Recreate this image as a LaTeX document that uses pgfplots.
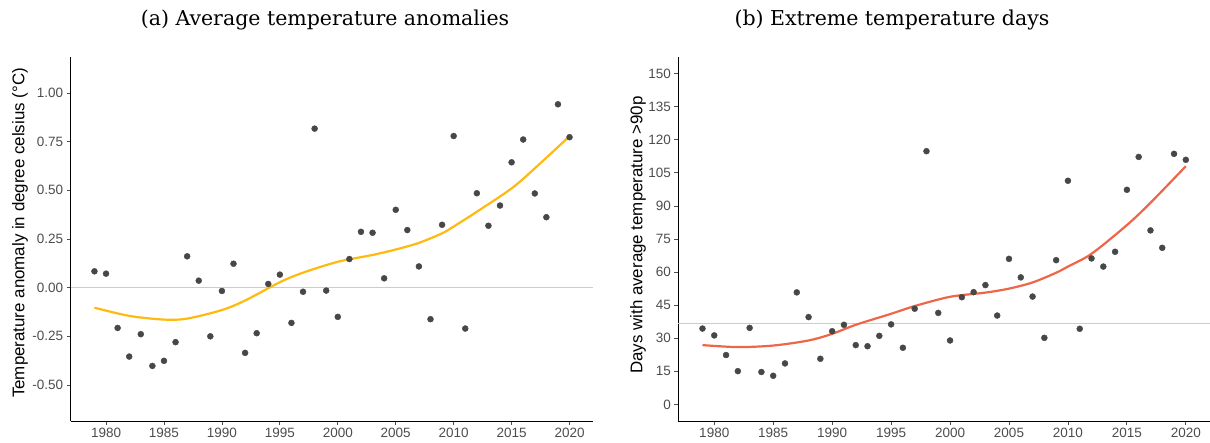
\documentclass[border=0pt]{standalone}
\usepackage{fontspec}
\setmainfont{DejaVu Serif}
\newfontfamily\lsans{Liberation Sans}
\usepackage{pgfplots}
\pgfplotsset{compat=1.18}
\definecolor{ptgrey}{HTML}{474747}
\definecolor{tickgrey}{HTML}{4D4D4D}
\definecolor{refgrey}{HTML}{CCCCCC}
\definecolor{curveA}{HTML}{FFB910}
\definecolor{curveB}{HTML}{EF6548}

\pgfplotsset{
  panel/.style={
    scale only axis, height=364pt,
    anchor=south west,
    axis x line*=bottom, axis y line*=left,
    axis line style={-, black, line width=0.9pt},
    tick align=outside, major tick length=4pt,
    tick style={tickgrey, line width=0.8pt},
    xmin=1976.95, xmax=2022.05,
    xtick={1980,1985,...,2020},
    x tick label style={/pgf/number format/1000 sep={}},
    ticklabel style={font=\lsans\fontsize{13.5}{14}\selectfont, text=tickgrey},
    /pgf/number format/assume math mode=true,
    clip=false,
  },
  pts/.style={only marks, mark=*, mark size=3pt, mark options={fill=ptgrey, draw=ptgrey}},
}

\begin{document}
\begin{tikzpicture}[x=1pt,y=1pt]
\useasboundingbox (0,0) rectangle (1210,443);

\node[font=\fontsize{20.5}{24}\selectfont, anchor=base] at (325,417) {(a) Average temperature anomalies};
\node[font=\fontsize{20.5}{24}\selectfont, anchor=base] at (892,417) {(b) Extreme temperature days};
\node[rotate=90, font=\lsans\fontsize{16.9}{18}\selectfont] at (20,210) {Temperature anomaly in degree celsius (°C)};
\node[rotate=90, font=\lsans\fontsize{16.9}{18}\selectfont] at (638,208) {Days with average temperature >90p};

\begin{axis}[panel, at={(70.7pt,22pt)}, width=522.6pt,
  ymin=-0.685, ymax=1.185,
  ytick={-0.5,-0.25,0,0.25,0.5,0.75,1},
  yticklabel style={/pgf/number format/.cd, fixed, fixed zerofill, precision=2},
]
\addplot[refgrey, line width=0.9pt] coordinates {(1976.95,0) (2022.05,0)};
\addplot[pts] coordinates {
(1979,0.084) (1980,0.072) (1981,-0.207) (1982,-0.354) (1983,-0.239) (1984,-0.402)
(1985,-0.376) (1986,-0.280) (1987,0.161) (1988,0.036) (1989,-0.250) (1990,-0.017)
(1991,0.123) (1992,-0.335) (1993,-0.234) (1994,0.019) (1995,0.067) (1996,-0.181)
(1997,-0.021) (1998,0.817) (1999,-0.015) (2000,-0.150) (2001,0.147) (2002,0.287)
(2003,0.282) (2004,0.048) (2005,0.400) (2006,0.296) (2007,0.109) (2008,-0.162)
(2009,0.323) (2010,0.779) (2011,-0.210) (2012,0.485) (2013,0.318) (2014,0.422)
(2015,0.644) (2016,0.761) (2017,0.484) (2018,0.362) (2019,0.942) (2020,0.773)
};
\addplot[curveA, line width=2.2pt, smooth] coordinates {
(1979,-0.103) (1982,-0.145) (1985,-0.164) (1987,-0.159) (1990,-0.115) (1992,-0.066)
(1995,0.028) (1997,0.077) (2000,0.133) (2003,0.168) (2005,0.196) (2007,0.230)
(2009,0.279) (2010,0.314) (2012,0.390) (2015,0.510) (2017,0.613) (2020,0.778)
};
\end{axis}

\begin{axis}[panel, at={(678.3pt,22pt)}, width=531.7pt,
  ymin=-7.5, ymax=157.5,
  ytick={0,15,...,150},
]
\addplot[refgrey, line width=0.9pt] coordinates {(1976.95,36.6) (2022.05,36.6)};
\addplot[pts] coordinates {
(1979,34.4) (1980,31.3) (1981,22.4) (1982,15.1) (1983,34.7) (1984,14.7)
(1985,13.0) (1986,18.6) (1987,50.8) (1988,39.6) (1989,20.7) (1990,33.2)
(1991,36.1) (1992,26.9) (1993,26.4) (1994,31.1) (1995,36.3) (1996,25.7)
(1997,43.4) (1998,114.8) (1999,41.5) (2000,29.0) (2001,48.6) (2002,50.9)
(2003,54.1) (2004,40.3) (2005,66.0) (2006,57.6) (2007,48.9) (2008,30.2)
(2009,65.4) (2010,101.4) (2011,34.3) (2012,66.2) (2013,62.5) (2014,69.2)
(2015,97.3) (2016,112.2) (2017,78.9) (2018,71.0) (2019,113.6) (2020,110.9)
};
\addplot[curveB, line width=2.2pt, smooth] coordinates {
(1979,26.9) (1982,26.0) (1985,26.7) (1988,29.0) (1990,32.0) (1992,36.1)
(1995,41.1) (1997,44.6) (2000,48.8) (2003,50.7) (2005,52.5) (2007,55.3)
(2009,59.7) (2010,62.5) (2012,68.3) (2015,81.3) (2017,91.4) (2020,108.0)
};
\end{axis}
\end{tikzpicture}
\end{document}
